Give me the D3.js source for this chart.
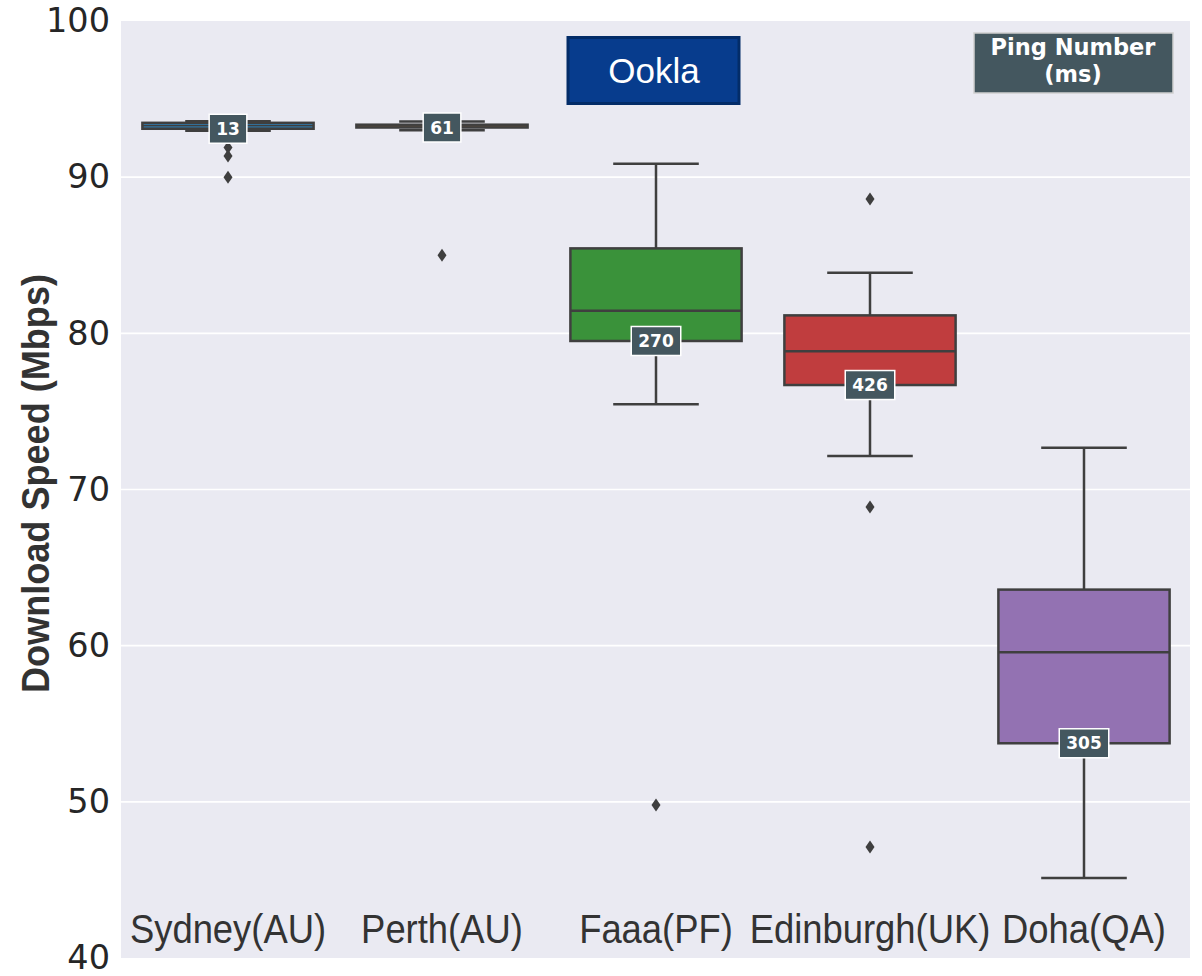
<!DOCTYPE html>
<html>
<head>
<meta charset="utf-8">
<script src="https://cdn.jsdelivr.net/npm/d3@7"></script>
<style>
  html, body { margin: 0; padding: 0; background: #ffffff; }
  svg { display: block; }
</style>
</head>
<body>
<svg id="chart" width="1202" height="976"></svg>
<script>
// ---- data ----
const categories = ["Sydney(AU)", "Perth(AU)", "Faaa(PF)", "Edinburgh(UK)", "Doha(QA)"];
const whiskerLow  = [92.98, 93.0, 75.46, 72.15, 45.12];
const q1          = [93.1, 93.18, 79.51, 76.69, 53.75];
const median      = [93.3, 93.27, 81.45, 78.85, 59.58];
const q3          = [93.48, 93.36, 85.44, 81.15, 63.59];
const whiskerHigh = [93.58, 93.56, 90.86, 83.88, 72.68];
const outliers    = [[91.9, 91.35, 90.0], [85.0], [49.8], [88.6, 68.88, 47.11], []];
const pings       = [13, 61, 270, 426, 305];
const boxColors   = ["#3274a1", "#e1812c", "#3a923a", "#c03d3e", "#9372b2"];
const yTicks      = [40, 50, 60, 70, 80, 90, 100];
const yLabel      = "Download Speed (Mbps)";
const sourceLabel = "Ookla";
const pingTitle   = ["Ping Number", "(ms)"];

(function () {
// ---- layout ----
const svg = d3.select("#chart");
const pLeft = 121, pRight = 1191, pTop = 21, pBottom = 958;
const lineColor = "#3f3f3f";
const tagFill = "#44575f";

const x = d3.scaleBand().domain(categories).range([pLeft, pRight]).paddingInner(0).paddingOuter(0);
const y = d3.scaleLinear().domain([40, 100]).range([pBottom, pTop]);

// plot background
svg.append("rect")
  .attr("x", pLeft).attr("y", pTop)
  .attr("width", pRight - pLeft - 1).attr("height", pBottom - pTop)
  .attr("fill", "#eaeaf2");

// grid
svg.append("g").selectAll("line")
  .data(yTicks.filter(t => t > 40 && t < 100))
  .join("line")
  .attr("x1", pLeft).attr("x2", pRight - 1)
  .attr("y1", d => y(d)).attr("y2", d => y(d))
  .attr("stroke", "#ffffff").attr("stroke-width", 1.6);

// y axis ticks
const yAxis = d3.axisLeft(y).tickValues(yTicks).tickSize(0).tickPadding(11);
const yg = svg.append("g").attr("transform", `translate(${pLeft},0)`).call(yAxis);
yg.select(".domain").remove();
yg.selectAll("text")
  .attr("font-family", "DejaVu Sans")
  .attr("font-size", 33.5)
  .attr("fill", "#262626");

// y axis title
svg.append("text")
  .attr("transform", `translate(49,${(272 + 695) / 2}) rotate(-90) scale(0.95,1)`)
  .attr("text-anchor", "middle")
  .attr("font-family", "Liberation Sans, Arial, sans-serif")
  .attr("font-weight", "bold")
  .attr("font-size", 38)
  .attr("fill", "#333333")
  .text(yLabel);

// boxes
const boxW = x.bandwidth() * 0.8;
const capW = boxW / 2;
const g = svg.append("g");
categories.forEach((c, i) => {
  const cx = x(c) + x.bandwidth() / 2;
  const gg = g.append("g");
  gg.append("line").attr("x1", cx).attr("x2", cx)
    .attr("y1", y(q3[i])).attr("y2", y(whiskerHigh[i]))
    .attr("stroke", lineColor).attr("stroke-width", 2.5);
  gg.append("line").attr("x1", cx).attr("x2", cx)
    .attr("y1", y(q1[i])).attr("y2", y(whiskerLow[i]))
    .attr("stroke", lineColor).attr("stroke-width", 2.5);
  [whiskerHigh[i], whiskerLow[i]].forEach(v => {
    gg.append("line").attr("x1", cx - capW / 2).attr("x2", cx + capW / 2)
      .attr("y1", y(v)).attr("y2", y(v))
      .attr("stroke", lineColor).attr("stroke-width", 2.5);
  });
  gg.append("rect")
    .attr("x", cx - boxW / 2).attr("y", y(q3[i]))
    .attr("width", boxW).attr("height", y(q1[i]) - y(q3[i]))
    .attr("fill", boxColors[i]).attr("stroke", lineColor).attr("stroke-width", 2.5);
  gg.append("line").attr("x1", cx - boxW / 2).attr("x2", cx + boxW / 2)
    .attr("y1", y(median[i])).attr("y2", y(median[i]))
    .attr("stroke", lineColor).attr("stroke-width", i < 2 ? 1.2 : 2.5);
  gg.selectAll("path.out").data(outliers[i]).join("path")
    .attr("class", "out")
    .attr("d", d => `M${cx},${y(d) - 6.5} L${cx + 4.5},${y(d)} L${cx},${y(d) + 6.5} L${cx - 4.5},${y(d)} Z`)
    .attr("fill", lineColor);
});

// ping tags at Q1
categories.forEach((c, i) => {
  const cx = x(c) + x.bandwidth() / 2;
  const cy = y(q1[i]);
  const tg = svg.append("g");
  const t = tg.append("text")
    .attr("x", cx).attr("y", cy)
    .attr("dy", "0.36em")
    .attr("text-anchor", "middle")
    .attr("font-family", "DejaVu Sans")
    .attr("font-weight", "bold")
    .attr("font-size", 17)
    .attr("fill", "#ffffff")
    .text(pings[i]);
  const w = t.node().getComputedTextLength() + 14;
  tg.insert("rect", "text")
    .attr("x", cx - w / 2).attr("y", cy - 14.5)
    .attr("width", w).attr("height", 29)
    .attr("fill", tagFill).attr("stroke", "#ffffff").attr("stroke-width", 1.5);
});

// category labels inside plot
svg.append("g").selectAll("text")
  .data(categories)
  .join("text")
  .attr("transform", d => `translate(${x(d) + x.bandwidth() / 2},943) scale(0.91,1)`)
  .attr("text-anchor", "middle")
  .attr("font-family", "Liberation Sans, Arial, sans-serif")
  .attr("font-size", 40)
  .attr("fill", "#333333")
  .text(d => d);

// Ookla box
svg.append("rect")
  .attr("x", 568).attr("y", 37.5).attr("width", 171).attr("height", 66)
  .attr("fill", "#073c8d").attr("stroke", "#032c68").attr("stroke-width", 3);
svg.append("text")
  .attr("x", 654).attr("y", 71).attr("dy", "0.35em")
  .attr("text-anchor", "middle")
  .attr("font-family", "Liberation Sans, Arial, sans-serif")
  .attr("font-size", 35)
  .attr("fill", "#ffffff")
  .text(sourceLabel);

// Ping Number box
svg.append("rect")
  .attr("x", 974).attr("y", 33).attr("width", 199).attr("height", 60)
  .attr("fill", tagFill).attr("stroke", "#d0d0d0").attr("stroke-width", 1.5);
svg.append("g").selectAll("text")
  .data(pingTitle)
  .join("text")
  .attr("x", 1073)
  .attr("y", (d, i) => 55 + i * 27)
  .attr("text-anchor", "middle")
  .attr("font-family", "DejaVu Sans")
  .attr("font-weight", "bold")
  .attr("font-size", 22.5)
  .attr("fill", "#ffffff")
  .text(d => d);
})();
</script>
</body>
</html>
